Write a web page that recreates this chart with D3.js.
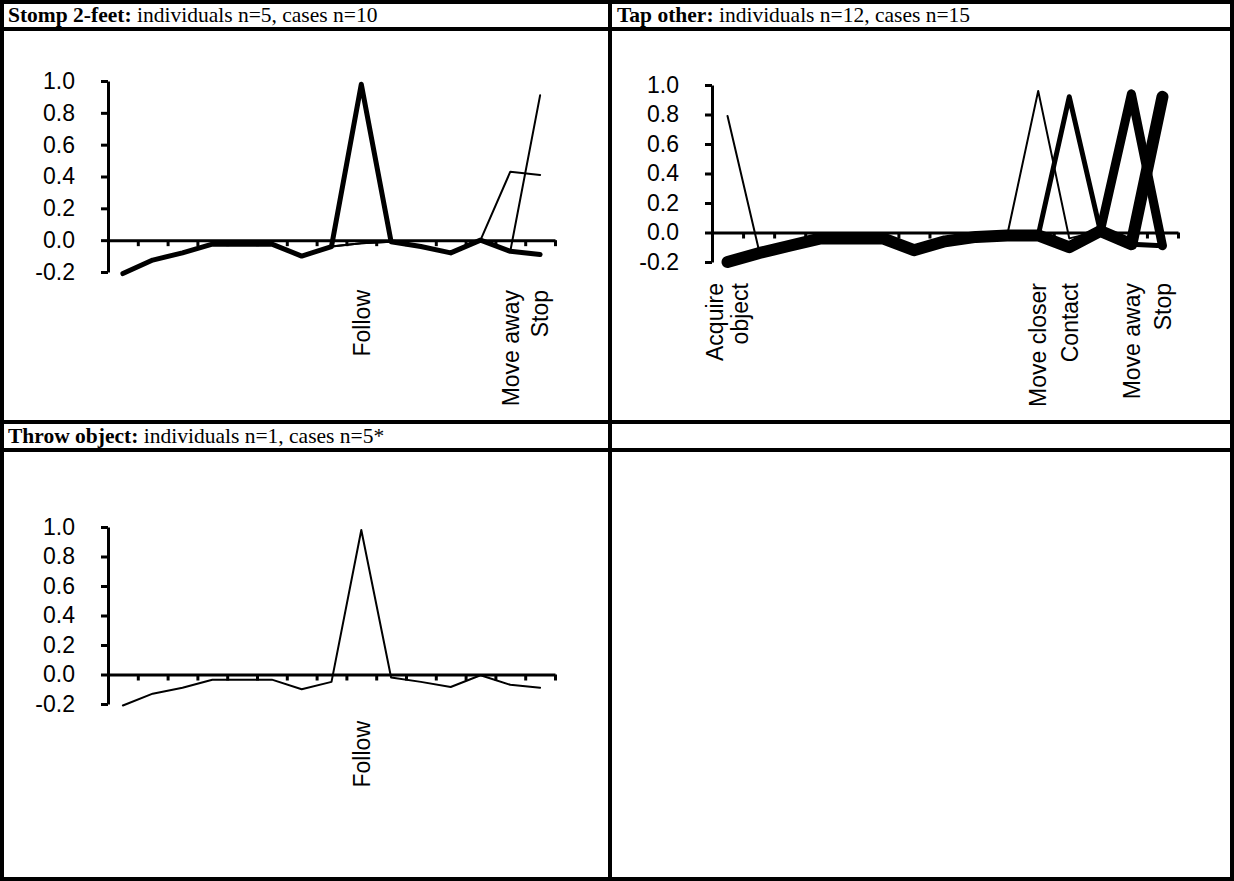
<!doctype html>
<html>
<head>
<style>
  body { margin: 0; background: #fff; }
  svg { display: block; }
  .axis path, .axis line { stroke: #000; stroke-width: 3px; }
  .axis text { font-family: "Liberation Sans", Arial, sans-serif; font-size: 23px; fill: #000; }
  .cat { font-family: "Liberation Sans", Arial, sans-serif; font-size: 23px; fill: #000; }
  .hdr { font-family: "Liberation Serif", "Times New Roman", serif; font-size: 21.5px; fill: #000; }
  .series { fill: none; stroke: #000; stroke-linejoin: round; stroke-linecap: round; }
  .grid { stroke: #000; stroke-width: 4px; fill: none; }
</style>
<script src="https://cdn.jsdelivr.net/npm/d3@7"></script>
</head>
<body>
<script>

var yTicks = [-0.2, 0, 0.2, 0.4, 0.6, 0.8, 1.0];
var steps = d3.range(1, 16);

// Stomp 2-feet
var stompLabels = ["", "", "", "", "", "", "", "", "Follow", "", "", "", "", "Move away", "Stop"];
var stompFollow   = [-0.21, -0.125, -0.08, -0.025, -0.025, -0.025, -0.1, -0.04, 0.98, -0.01, -0.04, -0.08, 0.0, -0.07, -0.09];
var stompMoveAway = [-0.21, -0.125, -0.08, -0.025, -0.025, -0.025, -0.1, -0.04, -0.02, -0.01, -0.04, -0.08, 0.0, 0.43, 0.41];
var stompStop     = [-0.21, -0.125, -0.08, -0.025, -0.025, -0.025, -0.1, -0.04, -0.02, -0.01, -0.04, -0.08, 0.0, -0.07, 0.91];

// Tap other
var tapLabels = ["Acquire\nobject", "", "", "", "", "", "", "", "", "", "Move closer", "Contact", "", "Move away", "Stop"];
var tapAcquire    = [0.79, -0.11, -0.09, -0.04, -0.04, -0.04, -0.12, -0.06, -0.03, -0.02, -0.02, -0.1, 0.01, -0.08, -0.09];
var tapMoveCloser = [-0.2, -0.14, -0.09, -0.04, -0.04, -0.04, -0.12, -0.06, -0.03, -0.02, 0.96, -0.04, 0.01, -0.08, -0.09];
var tapContact    = [-0.2, -0.14, -0.09, -0.04, -0.04, -0.04, -0.12, -0.06, -0.03, -0.02, -0.02, 0.92, 0.01, -0.08, -0.09];
var tapMoveAway   = [-0.2, -0.14, -0.09, -0.04, -0.04, -0.04, -0.12, -0.06, -0.03, -0.02, -0.02, -0.1, 0.01, 0.94, -0.09];
var tapStop       = [-0.2, -0.14, -0.09, -0.04, -0.04, -0.04, -0.12, -0.06, -0.03, -0.02, -0.02, -0.1, 0.01, -0.08, 0.92];

// Throw object
var throwLabels = ["", "", "", "", "", "", "", "", "Follow", "", "", "", "", "", ""];
var throwFollow = [-0.21, -0.13, -0.09, -0.035, -0.035, -0.035, -0.1, -0.05, 0.98, -0.02, -0.05, -0.085, -0.005, -0.07, -0.09];

var W = 1234, H = 881;

var svg = d3.select("body").append("svg")
  .attr("width", W)
  .attr("height", H);

// table frame
var colX = [2, 610, 1232];
var rowY = [2, 29, 422, 450, 879];
rowY.forEach(function(yy) {
  svg.append("line").attr("class", "grid").attr("x1", 0).attr("x2", W).attr("y1", yy).attr("y2", yy);
});
colX.forEach(function(xx) {
  svg.append("line").attr("class", "grid").attr("x1", xx).attr("x2", xx).attr("y1", 0).attr("y2", H);
});

function header(x, y, bold, rest) {
  var t = svg.append("text").attr("class", "hdr").attr("x", x).attr("y", y);
  t.append("tspan").attr("font-weight", "bold").text(bold);
  t.append("tspan").text(rest);
}

header(8, 22, "Stomp 2-feet:", " individuals n=5, cases n=10");
header(617, 22, "Tap other:", " individuals n=12, cases n=15");
header(8, 443, "Throw object:", " individuals n=1, cases n=5*");

function drawPanel(p) {
  var x = d3.scaleLinear().domain([0, 15]).range([p.left, p.right]);
  var y = d3.scaleLinear().domain([-0.2, 1.0]).range([p.bottom, p.top]);

  var line = d3.line()
    .x(function(d, i) { return x(i + 0.5); })
    .y(function(d) { return y(d); });

  p.series.forEach(function(s) {
    svg.append("path")
      .attr("class", "series")
      .attr("stroke-width", s.width)
      .attr("d", line(s.values));
  });

  svg.append("g")
    .attr("class", "axis")
    .attr("transform", "translate(" + p.left + ",0)")
    .call(d3.axisLeft(y).tickValues(yTicks)
      .tickFormat(function(d) { return d.toFixed(1); })
      .tickSizeInner(7).tickSizeOuter(0).tickPadding(26));

  svg.append("g")
    .attr("class", "axis")
    .attr("transform", "translate(0," + y(0) + ")")
    .call(d3.axisBottom(x).tickValues(steps).tickFormat("")
      .tickSizeInner(6).tickSizeOuter(0));

  p.labels.forEach(function(lab, i) {
    if (!lab) return;
    var parts = lab.split("\n");
    parts.forEach(function(part, j) {
      var cx = x(i + 0.5) + (j - (parts.length - 1) / 2) * 25;
      svg.append("text")
        .attr("class", "cat")
        .attr("text-anchor", "end")
        .attr("dy", "0.36em")
        .attr("transform", "translate(" + cx + "," + p.labelY + ") rotate(-90)")
        .text(part);
    });
  });
}

drawPanel({
  left: 108, right: 555, top: 81, bottom: 272, labelY: 290,
  labels: stompLabels,
  series: [
    { values: stompFollow, width: 5 },
    { values: stompMoveAway, width: 2 },
    { values: stompStop, width: 2 }
  ]
});

drawPanel({
  left: 712, right: 1178, top: 85, bottom: 262, labelY: 283,
  labels: tapLabels,
  series: [
    { values: tapStop, width: 12 },
    { values: tapMoveAway, width: 9 },
    { values: tapContact, width: 5 },
    { values: tapMoveCloser, width: 2 },
    { values: tapAcquire, width: 2 }
  ]
});

drawPanel({
  left: 108, right: 555, top: 527, bottom: 704, labelY: 721,
  labels: throwLabels,
  series: [
    { values: throwFollow, width: 2 }
  ]
});

</script>
</body>
</html>
